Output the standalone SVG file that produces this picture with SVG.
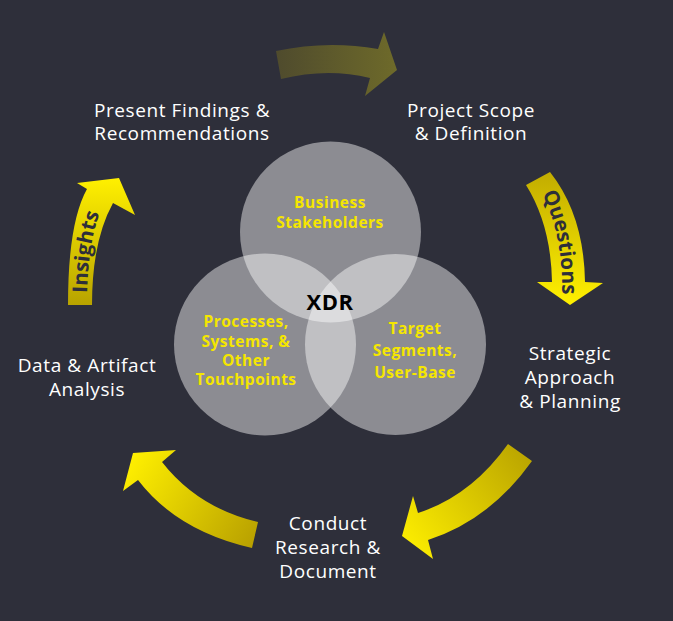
<svg xmlns="http://www.w3.org/2000/svg" width="673" height="621" viewBox="0 0 673 621">
<defs>
<style>
.lbl{font-family:"Open Sans","Noto Sans",sans-serif;font-size:19px;letter-spacing:0.6px;fill:#ffffff;text-anchor:middle}
.yl{font-family:"Open Sans","Noto Sans",sans-serif;font-size:15.5px;letter-spacing:0.5px;font-weight:bold;fill:#f5e600;text-anchor:middle}
.xdr{font-family:"Open Sans","Noto Sans",sans-serif;font-size:22px;letter-spacing:0.5px;font-weight:bold;fill:#000000;text-anchor:middle}
.arr{font-family:"Open Sans","Noto Sans",sans-serif;font-size:20.5px;font-weight:bold;fill:#2e2f3a}
.circ{fill:#ffffff;fill-opacity:0.45}
</style>
<linearGradient id="gTop" x1="276" y1="0" x2="397" y2="0" gradientUnits="userSpaceOnUse">
<stop offset="0" stop-color="#4f4b2d"/><stop offset="1" stop-color="#6e6a2a"/>
</linearGradient>
<linearGradient id="gQ" x1="0" y1="172" x2="0" y2="305" gradientUnits="userSpaceOnUse">
<stop offset="0" stop-color="#c2ac00"/><stop offset="1" stop-color="#fff000"/>
</linearGradient>
<linearGradient id="gI" x1="0" y1="178" x2="0" y2="305" gradientUnits="userSpaceOnUse">
<stop offset="0" stop-color="#fff000"/><stop offset="1" stop-color="#b8a300"/>
</linearGradient>
<linearGradient id="gR" x1="532" y1="450" x2="402" y2="550" gradientUnits="userSpaceOnUse">
<stop offset="0" stop-color="#b8a200"/><stop offset="1" stop-color="#fff000"/>
</linearGradient>
<linearGradient id="gL" x1="128" y1="460" x2="258" y2="540" gradientUnits="userSpaceOnUse">
<stop offset="0" stop-color="#fff000"/><stop offset="1" stop-color="#b8a000"/>
</linearGradient>
<path id="pQ" d="M532,176 Q561,220 562,282 L562,312"/>
<path id="pI" d="M87,310 L87,305 Q87,232 107,198"/>
</defs>
<rect x="0" y="0" width="673" height="621" fill="#2e2f3a"/>

<g id="connectors">
<path id="arrow-top" d="M276,51 Q327,40 378,49 L384,32 L397,70 L365,96 L370,78 Q327,67.5 281,79 Z" fill="url(#gTop)"/>
<path id="arrow-questions" d="M526,185 Q551,225 552,282 L537,282 L570,305 L603,283 L585,282 Q584,215 550,172 Z" fill="url(#gQ)"/>
<text class="arr"><textPath href="#pQ" startOffset="51%" text-anchor="middle">Questions</textPath></text>
<path id="arrow-lower-right" d="M508,444 Q471,496 418,513 L413,496 L402,536 L433,559 L428,540 Q490,520 532,461 Z" fill="url(#gR)"/>
<path id="arrow-lower-left" d="M258,522 Q198,508 162,462 L176,450 L133,453 L123,491 L138,480 Q177,531 252,548 Z" fill="url(#gL)"/>
<path id="arrow-insights" d="M68,305 Q68,223 87,189 L77,183 L119,178 L135,215 L113,203 Q92,241 92,305 Z" fill="url(#gI)"/>
<text class="arr"><textPath href="#pI" startOffset="50%" text-anchor="middle">Insights</textPath></text>
</g>

<g id="venn">
<circle class="circ" cx="330.5" cy="232" r="90.5"/>
<circle class="circ" cx="265" cy="344.5" r="91"/>
<circle class="circ" cx="395.5" cy="344.5" r="90.5"/>
</g>

<g id="node-business">
<text class="yl" x="330" y="208">Business</text>
<text class="yl" x="330" y="228">Stakeholders</text>
</g>
<g id="node-processes">
<text class="yl" x="246" y="327">Processes,</text>
<text class="yl" x="246" y="347">Systems, &amp;</text>
<text class="yl" x="246" y="366">Other</text>
<text class="yl" x="246" y="385">Touchpoints</text>
</g>
<g id="node-target">
<text class="yl" x="415" y="334">Target</text>
<text class="yl" x="415" y="356">Segments,</text>
<text class="yl" x="415" y="378">User-Base</text>
</g>
<g id="node-xdr">
<text class="xdr" x="330" y="310">XDR</text>
</g>

<g id="node-present">
<text class="lbl" x="182" y="117">Present Findings &amp;</text>
<text class="lbl" x="182" y="140">Recommendations</text>
</g>
<g id="node-scope">
<text class="lbl" x="471" y="117">Project Scope</text>
<text class="lbl" x="471" y="140">&amp; Definition</text>
</g>
<g id="node-strategic">
<text class="lbl" x="570" y="360">Strategic</text>
<text class="lbl" x="570" y="384">Approach</text>
<text class="lbl" x="570" y="408">&amp; Planning</text>
</g>
<g id="node-conduct">
<text class="lbl" x="328" y="530">Conduct</text>
<text class="lbl" x="328" y="554">Research &amp;</text>
<text class="lbl" x="328" y="578">Document</text>
</g>
<g id="node-data">
<text class="lbl" x="87" y="372">Data &amp; Artifact</text>
<text class="lbl" x="87" y="396">Analysis</text>
</g>
</svg>
